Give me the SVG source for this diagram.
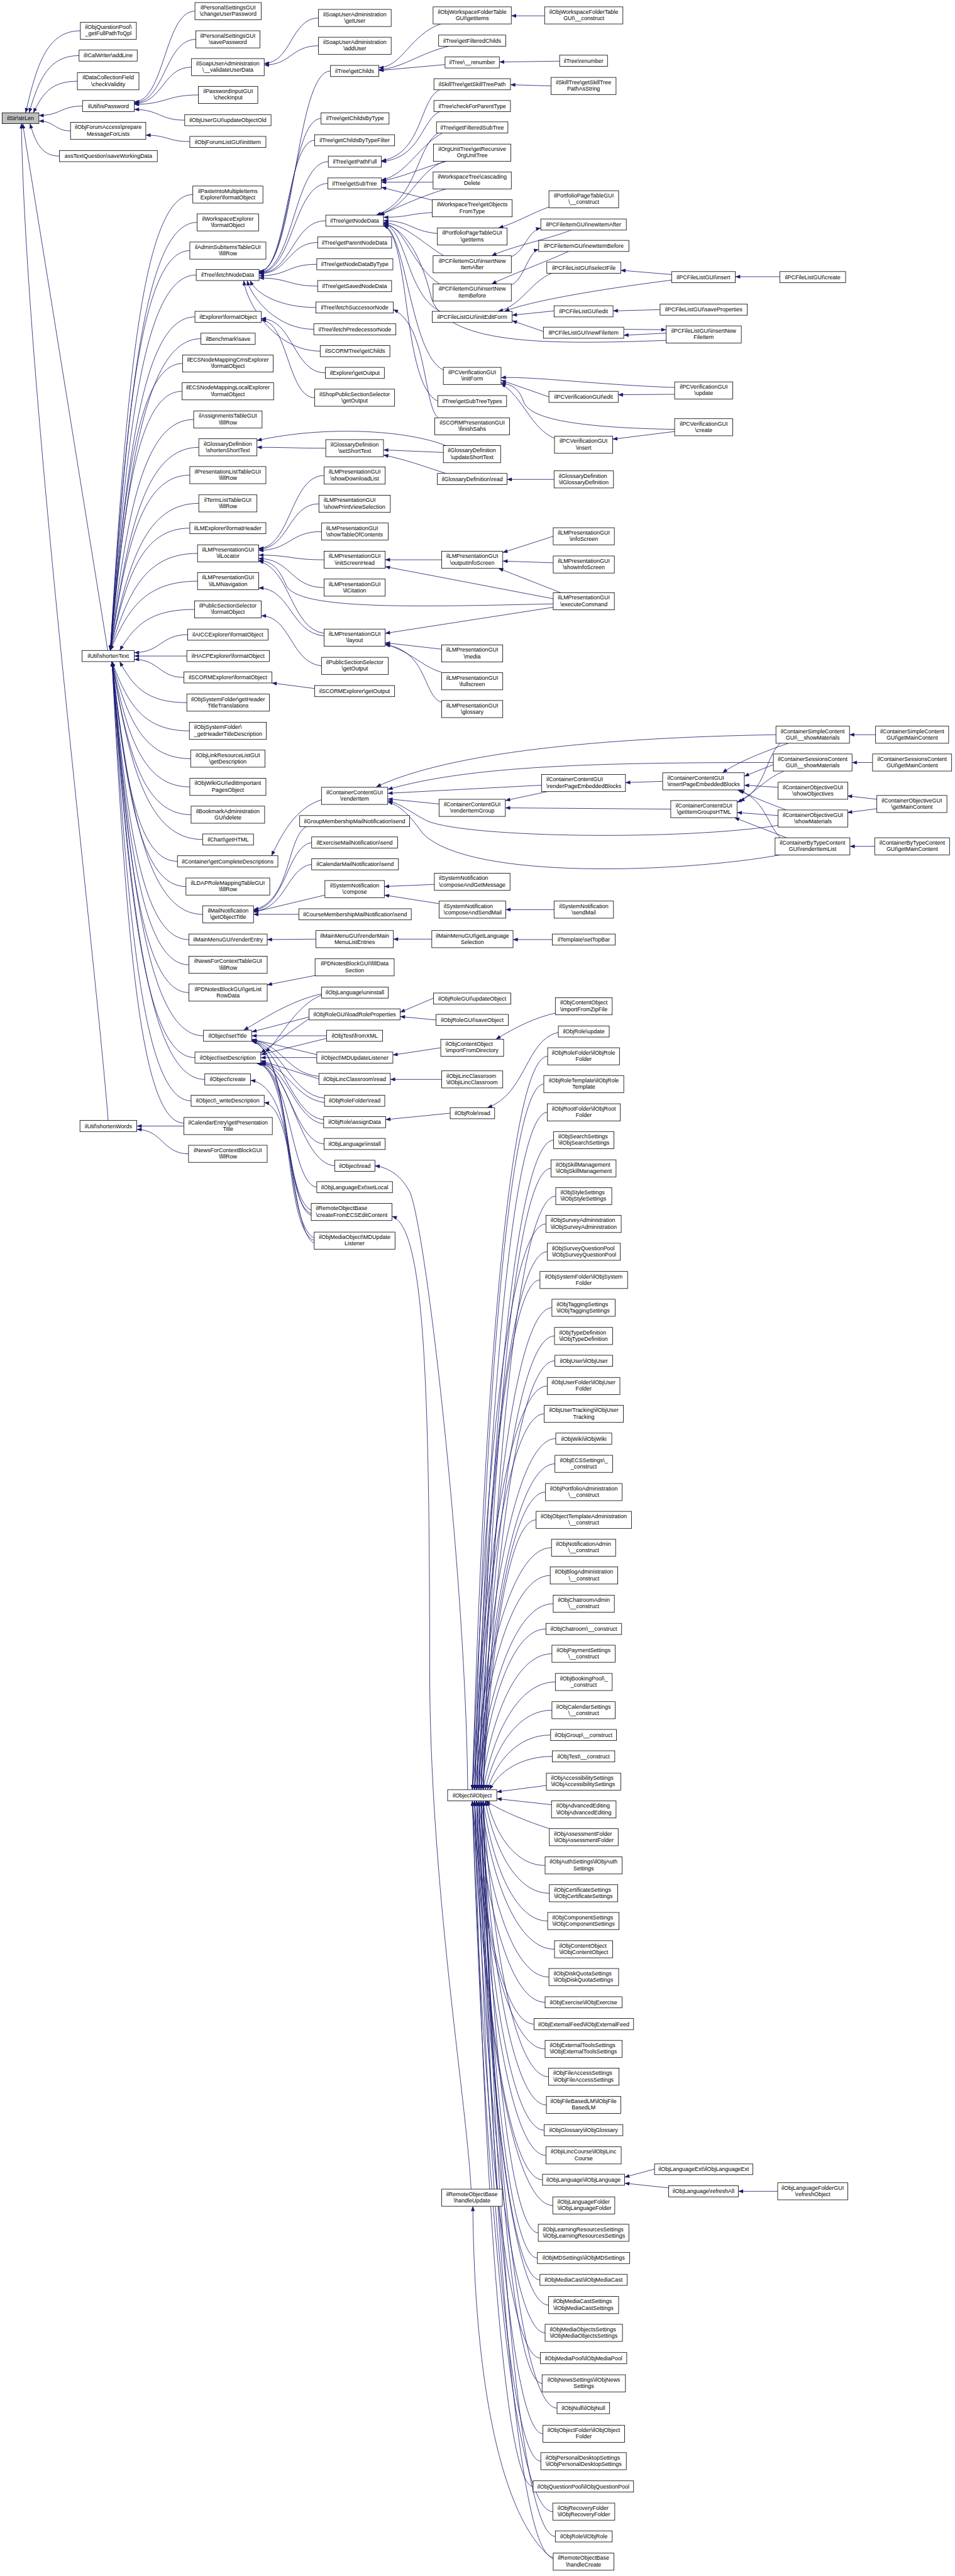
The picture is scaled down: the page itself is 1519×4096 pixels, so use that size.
<svg xmlns="http://www.w3.org/2000/svg" width="1519" height="4096" viewBox="0 0 1519 4096">
<style>
.n rect{fill:#fff;stroke:#000;stroke-width:1.2}
.n text{font-family:"Liberation Sans",Arial,Helvetica,sans-serif;font-size:13.2px;text-anchor:middle;fill:#000}
.n.l text{text-anchor:start}
#n0 rect{fill:#bfbfbf}
.e path{fill:none;stroke:#191970;stroke-width:1.2;marker-end:url(#a)}
</style>
<defs>
<marker id="a" viewBox="0 0 10 8" refX="10" refY="4" markerWidth="13" markerHeight="9" orient="auto" markerUnits="userSpaceOnUse"><path d="M0,0 L10,4 L0,8 z" fill="#191970"/></marker>
</defs>
<rect width="1519" height="4096" fill="#fff"/>
<g transform="scale(0.68)">
<g id="edges" class="e">
<path d="M188 72C111 72 86 149 60 264"/>
<path d="M185 130C115 130 91 184 68 264"/>
<path d="M181 190C119 190 99 220 78 264"/>
<path d="M193 248C142 248 142 270 91 270"/>
<path d="M165 306C128 306 128 283 91 283"/>
<path d="M139 365C98 365 84 335 70 289"/>
<path d="M252 1521L53 289"/>
<path d="M253 2620C220 2200 60 900 50 289"/>
<path d="M456 26C385 26 385 238 314 238"/>
<path d="M458 92C386 92 386 240 314 240"/>
<path d="M448 157C381 157 381 242 314 242"/>
<path d="M464 222C389 222 389 244 314 244"/>
<path d="M432 281C373 281 373 256 314 256"/>
<path d="M444 331C392 331 392 316 341 316"/>
<path d="M745 42C681 42 681 148 618 148"/>
<path d="M745 107C681 107 681 152 618 152"/>
<path d="M451 455C335 455 297 881 258 1521"/>
<path d="M461 520C339 520 299 920 258 1521"/>
<path d="M444 586C332 586 295 960 258 1521"/>
<path d="M459 643C338 643 298 994 258 1521"/>
<path d="M456 741C337 741 298 1053 258 1521"/>
<path d="M470 792C343 792 300 1084 258 1521"/>
<path d="M427 850C326 850 292 1118 258 1521"/>
<path d="M426 915C325 915 292 1157 258 1521"/>
<path d="M453 981C336 981 297 1197 258 1521"/>
<path d="M465 1046C341 1046 299 1236 258 1521"/>
<path d="M444 1111C332 1111 295 1275 258 1521"/>
<path d="M465 1177C341 1177 299 1315 258 1521"/>
<path d="M444 1235C332 1235 295 1349 258 1521"/>
<path d="M462 1294C340 1294 299 1385 258 1521"/>
<path d="M462 1359C340 1359 299 1424 258 1521"/>
<path d="M455 1425C350 1425 315 1463 280 1521"/>
<path d="M439 1484C376 1484 376 1526 314 1526"/>
<path d="M437 1534L314 1534"/>
<path d="M430 1584C372 1584 372 1542 314 1542"/>
<path d="M437 1643C343 1643 311 1605 280 1547"/>
<path d="M443 1709C334 1709 298 1644 262 1547"/>
<path d="M446 1774C336 1774 299 1683 262 1547"/>
<path d="M444 1840C335 1840 298 1723 262 1547"/>
<path d="M447 1905C336 1905 299 1762 262 1547"/>
<path d="M474 1963C347 1963 304 1797 262 1547"/>
<path d="M415 2014C323 2014 293 1827 262 1547"/>
<path d="M435 2073C331 2073 297 1863 262 1547"/>
<path d="M474 2138C347 2138 304 1902 262 1547"/>
<path d="M442 2197C334 2197 298 1937 262 1547"/>
<path d="M442 2256C334 2256 298 1972 262 1547"/>
<path d="M442 2321C334 2321 298 2011 262 1547"/>
<path d="M476 2422C348 2422 305 2072 262 1547"/>
<path d="M456 2473C340 2473 301 2103 262 1547"/>
<path d="M479 2524C349 2524 305 2133 262 1547"/>
<path d="M447 2574C336 2574 299 2163 262 1547"/>
<path d="M430 2626C329 2626 296 2199 262 1547"/>
<path d="M430 2633L320 2633"/>
<path d="M441 2698C380 2698 380 2641 320 2641"/>
<path d="M773 166C690 166 690 634 606 634"/>
<path d="M751 277C678 277 678 635 606 635"/>
<path d="M736 328C671 328 671 636 606 636"/>
<path d="M768 378C687 378 687 637 606 637"/>
<path d="M767 429C686 429 686 638 606 638"/>
<path d="M762 516C684 516 684 639 606 639"/>
<path d="M743 567C675 567 675 640 606 640"/>
<path d="M741 618C673 618 673 645 606 645"/>
<path d="M743 669C675 669 675 650 606 650"/>
<path d="M739 719C660 719 600 690 585 656"/>
<path d="M734 770C650 770 590 700 578 656"/>
<path d="M749 821C650 821 580 720 570 656"/>
<path d="M761 872C686 872 686 745 611 745"/>
<path d="M736 930C673 930 673 749 611 749"/>
<path d="M762 1048C681 1048 681 1046 601 1046"/>
<path d="M1043 1042C950 1005 760 995 601 1030"/>
<path d="M758 1112C680 1112 680 1282 605 1282"/>
<path d="M746 1178C675 1178 675 1284 605 1284"/>
<path d="M752 1243C678 1243 678 1287 605 1287"/>
<path d="M758 1309C680 1309 680 1298 605 1298"/>
<path d="M758 1374C680 1374 680 1306 605 1306"/>
<path d="M1294 1412C950 1420 700 1425 670 1370C655 1335 640 1312 605 1310"/>
<path d="M758 1481C680 1470 680 1330 605 1312"/>
<path d="M758 1487C680 1480 680 1375 605 1375"/>
<path d="M752 1557C680 1550 680 1440 611 1440"/>
<path d="M736 1610L636 1597"/>
<path d="M1031 56C960 80 940 158 886 158"/>
<path d="M1050 108C980 125 940 160 886 163"/>
<path d="M1041 151L886 165"/>
<path d="M1309 143L1168 145"/>
<path d="M1274 37L1196 37"/>
<path d="M1030 209C980 230 990 360 892 376"/>
<path d="M1030 260C985 280 985 370 892 378"/>
<path d="M1289 201L1194 198"/>
<path d="M1035 311C980 340 950 410 892 421"/>
<path d="M1045 377C980 395 940 415 892 423"/>
<path d="M1013 426L892 426"/>
<path d="M1011 468L892 438"/>
<path d="M1025 311C975 340 975 470 880 503"/>
<path d="M1040 377C975 400 960 480 885 503"/>
<path d="M1043 442C980 460 920 490 888 503"/>
<path d="M1011 497C955 500 955 508 897 508"/>
<path d="M1023 546C960 540 960 516 897 516"/>
<path d="M1038 598C990 570 950 525 897 520"/>
<path d="M1028 664C960 620 950 530 897 522"/>
<path d="M1030 728C950 690 950 530 897 524"/>
<path d="M1037 865C960 830 950 540 897 526"/>
<path d="M1024 938C940 900 960 550 897 528"/>
<path d="M1558 796C1300 805 1050 810 1010 700C990 620 960 540 897 522"/>
<path d="M1025 977C990 950 1000 760 920 724"/>
<path d="M1284 484C1240 500 1210 520 1166 533"/>
<path d="M1196 600C1225 590 1235 540 1265 533"/>
<path d="M1336 538C1280 560 1200 575 1150 598"/>
<path d="M1196 666C1225 655 1235 590 1260 583"/>
<path d="M1330 588C1270 615 1200 640 1150 664"/>
<path d="M1290 639C1240 660 1220 715 1165 728"/>
<path d="M1571 655C1450 670 1250 700 1180 728"/>
<path d="M1296 727L1198 737"/>
<path d="M1271 775L1198 750"/>
<path d="M1571 642L1452 632"/>
<path d="M1544 724L1434 727"/>
<path d="M1558 779L1459 784"/>
<path d="M1459 770L1558 771"/>
<path d="M1824 647L1720 647"/>
<path d="M1284 928L1172 889"/>
<path d="M1578 906C1400 900 1250 880 1172 883"/>
<path d="M1578 1004C1350 1000 1240 980 1225 940C1215 910 1200 900 1172 895"/>
<path d="M1297 1025C1240 1000 1225 930 1172 897"/>
<path d="M1578 922L1446 923"/>
<path d="M1578 1009L1433 1027"/>
<path d="M1037 1058L897 1052"/>
<path d="M1043 1107C990 1090 950 1075 897 1064"/>
<path d="M1296 1121L1186 1121"/>
<path d="M1033 1309L901 1309"/>
<path d="M1294 1400L901 1325"/>
<path d="M1294 1254L1176 1292"/>
<path d="M1294 1316L1176 1312"/>
<path d="M1312 1386L1166 1329"/>
<path d="M1294 1420L901 1481"/>
<path d="M1033 1518L901 1503"/>
<path d="M1033 1572C990 1560 970 1530 901 1505"/>
<path d="M1033 1642C990 1630 1000 1520 901 1508"/>
<path d="M1815 1718C1400 1725 1050 1760 880 1840"/>
<path d="M1809 1783C1400 1783 1100 1790 907 1846"/>
<path d="M1267 1836L907 1855"/>
<path d="M1027 1880L907 1868"/>
<path d="M1820 1930C1600 1965 1100 1960 1000 1920C960 1900 940 1880 907 1872"/>
<path d="M1825 1999C1600 2040 1100 2060 990 1950C960 1910 940 1885 907 1875"/>
<path d="M752 1870C690 1890 660 1950 635 2001"/>
<path d="M1280 1851L1182 1872"/>
<path d="M1569 1892L1182 1889"/>
<path d="M1550 1827L1463 1830"/>
<path d="M1844 1738C1780 1760 1720 1785 1690 1807"/>
<path d="M1809 1788L1741 1815"/>
<path d="M1820 1841L1741 1836"/>
<path d="M1839 1894C1790 1875 1750 1860 1730 1847"/>
<path d="M1825 1959C1790 1920 1790 1870 1725 1847"/>
<path d="M1825 1738C1790 1770 1790 1850 1730 1873"/>
<path d="M1834 1803C1790 1820 1760 1860 1724 1876"/>
<path d="M1820 1907L1724 1900"/>
<path d="M1840 1959L1718 1912"/>
<path d="M2048 1718L1987 1718"/>
<path d="M2041 1783L1993 1783"/>
<path d="M2051 1869L1982 1861"/>
<path d="M2051 1891L1982 1900"/>
<path d="M2046 1979L1988 1979"/>
<path d="M716 1933C670 1960 680 2110 593 2127"/>
<path d="M729 1970C670 1980 670 2120 593 2129"/>
<path d="M729 2021C670 2030 670 2125 593 2131"/>
<path d="M760 2093L593 2133"/>
<path d="M699 2138L593 2138"/>
<path d="M1016 2068L899 2073"/>
<path d="M1027 2113L899 2093"/>
<path d="M1296 2127L1183 2127"/>
<path d="M739 2196L625 2197"/>
<path d="M1010 2196L920 2196"/>
<path d="M1292 2197L1200 2197"/>
<path d="M737 2281L625 2303"/>
<path d="M752 2324C680 2340 620 2380 570 2409"/>
<path d="M723 2378L589 2413"/>
<path d="M764 2422L589 2422"/>
<path d="M741 2466L589 2430"/>
<path d="M746 2517C670 2510 660 2440 589 2432"/>
<path d="M759 2568C680 2560 660 2445 589 2433"/>
<path d="M757 2618C680 2610 660 2450 589 2434"/>
<path d="M728 2830C660 2800 680 2460 589 2434"/>
<path d="M735 2895C660 2860 690 2460 589 2435"/>
<path d="M752 2327C690 2350 650 2440 620 2460"/>
<path d="M723 2382L610 2462"/>
<path d="M764 2428L610 2466"/>
<path d="M741 2473L610 2473"/>
<path d="M746 2523L610 2480"/>
<path d="M759 2578C690 2570 670 2490 610 2484"/>
<path d="M757 2628C690 2620 670 2490 610 2485"/>
<path d="M758 2675C690 2670 670 2495 610 2486"/>
<path d="M783 2726C700 2720 680 2500 610 2486"/>
<path d="M741 2776C680 2770 680 2500 605 2486"/>
<path d="M728 2838C660 2810 690 2500 600 2486"/>
<path d="M735 2901C660 2870 690 2500 600 2486"/>
<path d="M728 2842C670 2820 690 2540 586 2526"/>
<path d="M735 2907C680 2880 690 2590 618 2578"/>
<path d="M1014 2334L936 2367"/>
<path d="M1020 2385L936 2377"/>
<path d="M1031 2450L919 2467"/>
<path d="M1299 2369C1250 2380 1210 2400 1160 2430"/>
<path d="M1033 2524L913 2524"/>
<path d="M1053 2603L902 2618"/>
<path d="M1306 2414C1230 2430 1230 2560 1140 2590"/>
<path d="M1094 4185C1090 3700 1000 2900 960 2790C940 2750 910 2730 877 2726"/>
<path d="M1102 5119C1090 4900 1005 4400 1005 3900C1005 3200 990 2870 917 2844"/>
<path d="M1294 5984C1180 5900 1110 5600 1106 5159"/>
<path d="M1281 2470C1193 2470 1131 3242 1105 4185"/>
<path d="M1272 2535C1191 2535 1134 3278 1110 4185"/>
<path d="M1280 2601C1198 2601 1140 3314 1115 4185"/>
<path d="M1295 2666C1208 2666 1146 3350 1120 4185"/>
<path d="M1289 2732C1207 2732 1150 3386 1125 4185"/>
<path d="M1300 2797C1215 2797 1156 3422 1130 4185"/>
<path d="M1277 2862C1191 2862 1131 3457 1105 4185"/>
<path d="M1280 2927C1195 2927 1136 3493 1110 4185"/>
<path d="M1263 2993C1189 2993 1137 3529 1115 4185"/>
<path d="M1291 3058C1206 3058 1146 3565 1120 4185"/>
<path d="M1297 3124C1211 3124 1151 3601 1125 4185"/>
<path d="M1298 3182C1214 3182 1155 3633 1130 4185"/>
<path d="M1280 3241C1193 3241 1131 3666 1105 4185"/>
<path d="M1273 3306C1192 3306 1134 3702 1110 4185"/>
<path d="M1300 3364C1208 3364 1143 3733 1115 4185"/>
<path d="M1298 3423C1209 3423 1147 3766 1120 4185"/>
<path d="M1276 3489C1201 3489 1148 3802 1125 4185"/>
<path d="M1254 3554C1192 3554 1149 3838 1130 4185"/>
<path d="M1290 3619C1198 3619 1133 3874 1105 4185"/>
<path d="M1287 3684C1199 3684 1137 3909 1110 4185"/>
<path d="M1294 3750C1205 3750 1142 3946 1115 4185"/>
<path d="M1277 3809C1199 3809 1144 3978 1120 4185"/>
<path d="M1291 3867C1208 3867 1150 4010 1125 4185"/>
<path d="M1299 3933C1215 3933 1155 4046 1130 4185"/>
<path d="M1291 3999C1213 3999 1158 4083 1135 4185"/>
<path d="M1288 4057C1214 4057 1162 4115 1140 4185"/>
<path d="M1292 4107C1219 4107 1167 4142 1145 4185"/>
<path d="M1278 4175L1162 4190"/>
<path d="M1290 4220L1162 4206"/>
<path d="M1285 4276C1230 4258 1180 4238 1135 4211"/>
<path d="M1275 4362C1208 4362 1160 4294 1140 4211"/>
<path d="M1285 4427C1210 4427 1158 4330 1135 4211"/>
<path d="M1281 4492C1206 4492 1153 4366 1130 4211"/>
<path d="M1297 4558C1211 4558 1151 4402 1125 4211"/>
<path d="M1284 4623C1202 4623 1145 4438 1120 4211"/>
<path d="M1275 4682C1195 4682 1139 4470 1115 4211"/>
<path d="M1249 4733C1180 4733 1131 4498 1110 4211"/>
<path d="M1275 4791C1190 4791 1131 4530 1105 4211"/>
<path d="M1283 4856C1207 4856 1153 4566 1130 4211"/>
<path d="M1278 4922C1202 4922 1148 4602 1125 4211"/>
<path d="M1273 4981C1197 4981 1143 4635 1120 4211"/>
<path d="M1277 5040C1196 5040 1139 4667 1115 4211"/>
<path d="M1269 5097C1190 5097 1134 4698 1110 4211"/>
<path d="M1293 5157C1199 5157 1133 4731 1105 4211"/>
<path d="M1259 5221C1195 5221 1149 4767 1130 4211"/>
<path d="M1257 5280C1191 5280 1145 4799 1125 4211"/>
<path d="M1263 5331C1192 5331 1141 4827 1120 4211"/>
<path d="M1283 5390C1199 5390 1140 4859 1115 4211"/>
<path d="M1275 5455C1193 5455 1135 4895 1110 4211"/>
<path d="M1264 5514C1185 5514 1129 4928 1105 4211"/>
<path d="M1268 5573C1199 5573 1151 4960 1130 4211"/>
<path d="M1303 5631C1214 5631 1152 4992 1125 4211"/>
<path d="M1270 5691C1195 5691 1143 5025 1120 4211"/>
<path d="M1265 5755C1190 5755 1138 5060 1115 4211"/>
<path d="M1247 5814C1179 5814 1131 5093 1110 4211"/>
<path d="M1293 5873C1199 5873 1133 5125 1105 4211"/>
<path d="M1299 5931C1215 5931 1155 5157 1130 4211"/>
<path d="M1294 5980C1210 5980 1150 5184 1125 4211"/>
<path d="M1531 5072L1461 5091"/>
<path d="M1564 5116L1461 5105"/>
<path d="M1819 5124L1727 5124"/>
</g>
<g id="nodes">
<g id="n0" class="n"><rect x="5" y="264" width="86" height="25"/><text x="48" y="281.5">ilStr\strLen</text></g>
<g id="n1" class="n"><rect x="188" y="52" width="131" height="40"/><text x="253.5" y="68">ilObjQuestionPool\</text><text x="253.5" y="83">_getFullPathToQpl</text></g>
<g id="n2" class="n"><rect x="185" y="117" width="136" height="26"/><text x="253" y="134.5">ilICalWriter\addLine</text></g>
<g id="n3" class="n"><rect x="181" y="170" width="144" height="40"/><text x="253" y="186">ilDataCollectionField</text><text x="253" y="201">\checkValidity</text></g>
<g id="n4" class="n"><rect x="193" y="235" width="121" height="26"/><text x="253.5" y="252.5">ilUtil\isPassword</text></g>
<g id="n5" class="n"><rect x="165" y="286" width="176" height="40"/><text x="253" y="302">ilObjForumAccess\prepare</text><text x="253" y="317">MessageForLists</text></g>
<g id="n6" class="n"><rect x="139" y="352" width="229" height="26"/><text x="253.5" y="369.5">assTextQuestion\saveWorkingData</text></g>
<g id="n7" class="n"><rect x="192" y="1521" width="122" height="26"/><text x="253" y="1538.5">ilUtil\shortenText</text></g>
<g id="n8" class="n"><rect x="187" y="2620" width="133" height="26"/><text x="253.5" y="2637.5">ilUtil\shortenWords</text></g>
<g id="n9" class="n"><rect x="456" y="6" width="155" height="40"/><text x="533.5" y="22">ilPersonalSettingsGUI</text><text x="533.5" y="37">\changeUserPassword</text></g>
<g id="n10" class="n"><rect x="458" y="72" width="150" height="40"/><text x="533" y="88">ilPersonalSettingsGUI</text><text x="533" y="103">\savePassword</text></g>
<g id="n11" class="n"><rect x="448" y="137" width="170" height="40"/><text x="533" y="153">ilSoapUserAdministration</text><text x="533" y="168">\__validateUserData</text></g>
<g id="n12" class="n"><rect x="464" y="202" width="139" height="40"/><text x="533.5" y="218">ilPasswordInputGUI</text><text x="533.5" y="233">\checkInput</text></g>
<g id="n13" class="n"><rect x="432" y="268" width="202" height="26"/><text x="533" y="285.5">ilObjUserGUI\updateObjectOld</text></g>
<g id="n14" class="n"><rect x="444" y="319" width="178" height="26"/><text x="533" y="336.5">ilObjForumListGUI\initItem</text></g>
<g id="n15" class="n"><rect x="451" y="435" width="164" height="40"/><text x="533" y="451">ilPasteIntoMultipleItems</text><text x="533" y="466">Explorer\formatObject</text></g>
<g id="n16" class="n"><rect x="461" y="500" width="144" height="40"/><text x="533" y="516">ilWorkspaceExplorer</text><text x="533" y="531">\formatObject</text></g>
<g id="n17" class="n"><rect x="444" y="566" width="178" height="40"/><text x="533" y="582">ilAdminSubItemsTableGUI</text><text x="533" y="597">\fillRow</text></g>
<g id="n18" class="n"><rect x="459" y="630" width="147" height="26"/><text x="532.5" y="647.5">ilTree\fetchNodeData</text></g>
<g id="n19" class="n"><rect x="456" y="728" width="155" height="26"/><text x="533.5" y="745.5">ilExplorer\formatObject</text></g>
<g id="n20" class="n"><rect x="470" y="779" width="127" height="26"/><text x="533.5" y="796.5">ilBenchmark\save</text></g>
<g id="n21" class="n"><rect x="427" y="830" width="212" height="40"/><text x="533" y="846">ilECSNodeMappingCmsExplorer</text><text x="533" y="861">\formatObject</text></g>
<g id="n22" class="n"><rect x="426" y="895" width="214" height="40"/><text x="533" y="911">ilECSNodeMappingLocalExplorer</text><text x="533" y="926">\formatObject</text></g>
<g id="n23" class="n"><rect x="453" y="961" width="160" height="40"/><text x="533" y="977">ilAssignmentsTableGUI</text><text x="533" y="992">\fillRow</text></g>
<g id="n24" class="n"><rect x="465" y="1026" width="136" height="40"/><text x="533" y="1042">ilGlossaryDefinition</text><text x="533" y="1057">\shortenShortText</text></g>
<g id="n25" class="n"><rect x="444" y="1091" width="178" height="40"/><text x="533" y="1107">ilPresentationListTableGUI</text><text x="533" y="1122">\fillRow</text></g>
<g id="n26" class="n"><rect x="465" y="1157" width="136" height="40"/><text x="533" y="1173">ilTermListTableGUI</text><text x="533" y="1188">\fillRow</text></g>
<g id="n27" class="n"><rect x="444" y="1222" width="178" height="26"/><text x="533" y="1239.5">ilLMExplorer\formatHeader</text></g>
<g id="n28" class="n"><rect x="462" y="1274" width="143" height="40"/><text x="533.5" y="1290">ilLMPresentationGUI</text><text x="533.5" y="1305">\ilLocator</text></g>
<g id="n29" class="n"><rect x="462" y="1339" width="143" height="40"/><text x="533.5" y="1355">ilLMPresentationGUI</text><text x="533.5" y="1370">\ilLMNavigation</text></g>
<g id="n30" class="n"><rect x="455" y="1405" width="156" height="40"/><text x="533" y="1421">ilPublicSectionSelector</text><text x="533" y="1436">\formatObject</text></g>
<g id="n31" class="n"><rect x="439" y="1471" width="188" height="26"/><text x="533" y="1488.5">ilAICCExplorer\formatObject</text></g>
<g id="n32" class="n"><rect x="437" y="1521" width="193" height="26"/><text x="533.5" y="1538.5">ilHACPExplorer\formatObject</text></g>
<g id="n33" class="n"><rect x="430" y="1571" width="206" height="26"/><text x="533" y="1588.5">ilSCORMExplorer\formatObject</text></g>
<g id="n34" class="n"><rect x="437" y="1623" width="193" height="40"/><text x="533.5" y="1639">ilObjSystemFolder\getHeader</text><text x="533.5" y="1654">TitleTranslations</text></g>
<g id="n35" class="n l"><rect x="443" y="1689" width="180" height="40"/><text x="454" y="1705">ilObjSystemFolder\</text><text x="454" y="1720">_getHeaderTitleDescription</text></g>
<g id="n36" class="n"><rect x="446" y="1754" width="174" height="40"/><text x="533" y="1770">ilObjLinkResourceListGUI</text><text x="533" y="1785">\getDescription</text></g>
<g id="n37" class="n"><rect x="444" y="1820" width="178" height="40"/><text x="533" y="1836">ilObjWikiGUI\editImportant</text><text x="533" y="1851">PagesObject</text></g>
<g id="n38" class="n"><rect x="447" y="1885" width="172" height="40"/><text x="533" y="1901">ilBookmarkAdministration</text><text x="533" y="1916">GUI\delete</text></g>
<g id="n39" class="n"><rect x="474" y="1950" width="119" height="26"/><text x="533.5" y="1967.5">ilChart\getHTML</text></g>
<g id="n40" class="n"><rect x="415" y="2001" width="235" height="26"/><text x="532.5" y="2018.5">ilContainer\getCompleteDescriptions</text></g>
<g id="n41" class="n"><rect x="435" y="2053" width="196" height="40"/><text x="533" y="2069">ilLDAPRoleMappingTableGUI</text><text x="533" y="2084">\fillRow</text></g>
<g id="n42" class="n"><rect x="474" y="2118" width="119" height="40"/><text x="533.5" y="2134">ilMailNotification</text><text x="533.5" y="2149">\getObjectTitle</text></g>
<g id="n43" class="n"><rect x="442" y="2184" width="183" height="26"/><text x="533.5" y="2201.5">ilMainMenuGUI\renderEntry</text></g>
<g id="n44" class="n"><rect x="442" y="2236" width="183" height="40"/><text x="533.5" y="2252">ilNewsForContextTableGUI</text><text x="533.5" y="2267">\fillRow</text></g>
<g id="n45" class="n"><rect x="442" y="2301" width="183" height="40"/><text x="533.5" y="2317">ilPDNotesBlockGUI\getList</text><text x="533.5" y="2332">RowData</text></g>
<g id="n46" class="n"><rect x="476" y="2409" width="113" height="26"/><text x="532.5" y="2426.5">ilObject\setTitle</text></g>
<g id="n47" class="n"><rect x="456" y="2460" width="154" height="26"/><text x="533" y="2477.5">ilObject\setDescription</text></g>
<g id="n48" class="n"><rect x="479" y="2511" width="107" height="26"/><text x="532.5" y="2528.5">ilObject\create</text></g>
<g id="n49" class="n"><rect x="447" y="2561" width="171" height="26"/><text x="532.5" y="2578.5">ilObject\_writeDescription</text></g>
<g id="n50" class="n"><rect x="430" y="2613" width="207" height="40"/><text x="533.5" y="2629">ilCalendarEntry\getPresentation</text><text x="533.5" y="2644">Title</text></g>
<g id="n51" class="n"><rect x="441" y="2678" width="184" height="40"/><text x="533" y="2694">ilNewsForContextBlockGUI</text><text x="533" y="2709">\fillRow</text></g>
<g id="n52" class="n"><rect x="745" y="22" width="170" height="40"/><text x="830" y="38">ilSoapUserAdministration</text><text x="830" y="53">\getUser</text></g>
<g id="n53" class="n"><rect x="745" y="87" width="170" height="40"/><text x="830" y="103">ilSoapUserAdministration</text><text x="830" y="118">\addUser</text></g>
<g id="n54" class="n"><rect x="773" y="153" width="113" height="26"/><text x="829.5" y="170.5">ilTree\getChilds</text></g>
<g id="n55" class="n"><rect x="751" y="264" width="159" height="26"/><text x="830.5" y="281.5">ilTree\getChildsByType</text></g>
<g id="n56" class="n"><rect x="736" y="315" width="187" height="26"/><text x="829.5" y="332.5">ilTree\getChildsByTypeFilter</text></g>
<g id="n57" class="n"><rect x="768" y="365" width="124" height="26"/><text x="830" y="382.5">ilTree\getPathFull</text></g>
<g id="n58" class="n"><rect x="767" y="416" width="125" height="26"/><text x="829.5" y="433.5">ilTree\getSubTree</text></g>
<g id="n59" class="n"><rect x="762" y="503" width="135" height="26"/><text x="829.5" y="520.5">ilTree\getNodeData</text></g>
<g id="n60" class="n"><rect x="743" y="554" width="173" height="26"/><text x="829.5" y="571.5">ilTree\getParentNodeData</text></g>
<g id="n61" class="n"><rect x="741" y="605" width="178" height="26"/><text x="830" y="622.5">ilTree\getNodeDataByType</text></g>
<g id="n62" class="n"><rect x="743" y="656" width="173" height="26"/><text x="829.5" y="673.5">ilTree\getSavedNodeData</text></g>
<g id="n63" class="n"><rect x="739" y="706" width="181" height="26"/><text x="829.5" y="723.5">ilTree\fetchSuccessorNode</text></g>
<g id="n64" class="n"><rect x="734" y="757" width="192" height="26"/><text x="830" y="774.5">ilTree\fetchPredecessorNode</text></g>
<g id="n65" class="n"><rect x="749" y="808" width="163" height="26"/><text x="830.5" y="825.5">ilSCORMTree\getChilds</text></g>
<g id="n66" class="n"><rect x="761" y="859" width="138" height="26"/><text x="830" y="876.5">ilExplorer\getOutput</text></g>
<g id="n67" class="n"><rect x="736" y="910" width="187" height="40"/><text x="829.5" y="926">ilShopPublicSectionSelector</text><text x="829.5" y="941">\getOutput</text></g>
<g id="n68" class="n"><rect x="762" y="1028" width="135" height="40"/><text x="829.5" y="1044">ilGlossaryDefinition</text><text x="829.5" y="1059">\setShortText</text></g>
<g id="n69" class="n"><rect x="758" y="1092" width="143" height="40"/><text x="829.5" y="1108">ilLMPresentationGUI</text><text x="829.5" y="1123">\showDownloadList</text></g>
<g id="n70" class="n l"><rect x="746" y="1158" width="167" height="40"/><text x="757" y="1174">ilLMPresentationGUI</text><text x="757" y="1189">\showPrintViewSelection</text></g>
<g id="n71" class="n l"><rect x="752" y="1223" width="156" height="40"/><text x="763" y="1239">ilLMPresentationGUI</text><text x="763" y="1254">\showTableOfContents</text></g>
<g id="n72" class="n"><rect x="758" y="1289" width="143" height="40"/><text x="829.5" y="1305">ilLMPresentationGUI</text><text x="829.5" y="1320">\initScreenHead</text></g>
<g id="n73" class="n"><rect x="758" y="1354" width="143" height="40"/><text x="829.5" y="1370">ilLMPresentationGUI</text><text x="829.5" y="1385">\ilCitation</text></g>
<g id="n74" class="n"><rect x="758" y="1471" width="143" height="40"/><text x="829.5" y="1487">ilLMPresentationGUI</text><text x="829.5" y="1502">\layout</text></g>
<g id="n75" class="n"><rect x="752" y="1537" width="156" height="40"/><text x="830" y="1553">ilPublicSectionSelector</text><text x="830" y="1568">\getOutput</text></g>
<g id="n76" class="n"><rect x="736" y="1603" width="187" height="26"/><text x="829.5" y="1620.5">ilSCORMExplorer\getOutput</text></g>
<g id="n77" class="n"><rect x="752" y="1841" width="155" height="40"/><text x="829.5" y="1857">ilContainerContentGUI</text><text x="829.5" y="1872">\renderItem</text></g>
<g id="n78" class="n"><rect x="701" y="1907" width="257" height="26"/><text x="829.5" y="1924.5">ilGroupMembershipMailNotification\send</text></g>
<g id="n79" class="n"><rect x="729" y="1957" width="201" height="26"/><text x="829.5" y="1974.5">ilExerciseMailNotification\send</text></g>
<g id="n80" class="n"><rect x="729" y="2008" width="203" height="26"/><text x="830.5" y="2025.5">ilCalendarMailNotification\send</text></g>
<g id="n81" class="n"><rect x="760" y="2059" width="139" height="40"/><text x="829.5" y="2075">ilSystemNotification</text><text x="829.5" y="2090">\compose</text></g>
<g id="n82" class="n"><rect x="699" y="2125" width="263" height="26"/><text x="830.5" y="2142.5">ilCourseMembershipMailNotification\send</text></g>
<g id="n83" class="n"><rect x="739" y="2176" width="181" height="40"/><text x="829.5" y="2192">ilMainMenuGUI\renderMain</text><text x="829.5" y="2207">MenuListEntries</text></g>
<g id="n84" class="n"><rect x="737" y="2242" width="185" height="40"/><text x="829.5" y="2258">ilPDNotesBlockGUI\fillData</text><text x="829.5" y="2273">Section</text></g>
<g id="n85" class="n"><rect x="752" y="2308" width="156" height="26"/><text x="830" y="2325.5">ilObjLanguage\uninstall</text></g>
<g id="n86" class="n"><rect x="723" y="2359" width="213" height="26"/><text x="829.5" y="2376.5">ilObjRoleGUI\loadRoleProperties</text></g>
<g id="n87" class="n"><rect x="764" y="2409" width="131" height="26"/><text x="829.5" y="2426.5">ilObjTest\fromXML</text></g>
<g id="n88" class="n"><rect x="741" y="2460" width="178" height="26"/><text x="830" y="2477.5">ilObject\MDUpdateListener</text></g>
<g id="n89" class="n"><rect x="746" y="2510" width="167" height="26"/><text x="829.5" y="2527.5">ilObjiLincClassroom\read</text></g>
<g id="n90" class="n"><rect x="759" y="2561" width="141" height="26"/><text x="829.5" y="2578.5">ilObjRoleFolder\read</text></g>
<g id="n91" class="n"><rect x="757" y="2611" width="145" height="26"/><text x="829.5" y="2628.5">ilObjRole\assignData</text></g>
<g id="n92" class="n"><rect x="758" y="2662" width="143" height="26"/><text x="829.5" y="2679.5">ilObjLanguage\install</text></g>
<g id="n93" class="n"><rect x="783" y="2713" width="94" height="26"/><text x="830" y="2730.5">ilObject\read</text></g>
<g id="n94" class="n"><rect x="741" y="2763" width="177" height="26"/><text x="829.5" y="2780.5">ilObjLanguageExt\setLocal</text></g>
<g id="n95" class="n l"><rect x="728" y="2814" width="189" height="40"/><text x="739" y="2830">ilRemoteObjectBase</text><text x="739" y="2845">\createFromECSEditContent</text></g>
<g id="n96" class="n"><rect x="735" y="2881" width="189" height="40"/><text x="829.5" y="2897">ilObjMediaObject\MDUpdate</text><text x="829.5" y="2912">Listener</text></g>
<g id="n97" class="n"><rect x="1013" y="16" width="183" height="40"/><text x="1104.5" y="32">ilObjWorkspaceFolderTable</text><text x="1104.5" y="47">GUI\getItems</text></g>
<g id="n98" class="n"><rect x="1026" y="82" width="157" height="26"/><text x="1104.5" y="99.5">ilTree\getFilteredChilds</text></g>
<g id="n99" class="n"><rect x="1041" y="133" width="127" height="26"/><text x="1104.5" y="150.5">ilTree\__renumber</text></g>
<g id="n100" class="n"><rect x="1015" y="184" width="179" height="26"/><text x="1104.5" y="201.5">ilSkillTree\getSkillTreePath</text></g>
<g id="n101" class="n"><rect x="1015" y="235" width="179" height="26"/><text x="1104.5" y="252.5">ilTree\checkForParentType</text></g>
<g id="n102" class="n"><rect x="1021" y="285" width="167" height="26"/><text x="1104.5" y="302.5">ilTree\getFilteredSubTree</text></g>
<g id="n103" class="n"><rect x="1014" y="337" width="181" height="40"/><text x="1104.5" y="353">ilOrgUnitTree\getRecursive</text><text x="1104.5" y="368">OrgUnitTree</text></g>
<g id="n104" class="n"><rect x="1013" y="402" width="183" height="40"/><text x="1104.5" y="418">ilWorkspaceTree\cascading</text><text x="1104.5" y="433">Delete</text></g>
<g id="n105" class="n"><rect x="1011" y="467" width="187" height="40"/><text x="1104.5" y="483">ilWorkspaceTree\getObjects</text><text x="1104.5" y="498">FromType</text></g>
<g id="n106" class="n"><rect x="1023" y="533" width="163" height="40"/><text x="1104.5" y="549">ilPortfolioPageTableGUI</text><text x="1104.5" y="564">\getItems</text></g>
<g id="n107" class="n"><rect x="1013" y="598" width="183" height="40"/><text x="1104.5" y="614">ilPCFileItemGUI\insertNew</text><text x="1104.5" y="629">ItemAfter</text></g>
<g id="n108" class="n"><rect x="1013" y="664" width="183" height="40"/><text x="1104.5" y="680">ilPCFileItemGUI\insertNew</text><text x="1104.5" y="695">ItemBefore</text></g>
<g id="n109" class="n"><rect x="1011" y="728" width="187" height="26"/><text x="1104.5" y="745.5">ilPCFileListGUI\initEditForm</text></g>
<g id="n110" class="n"><rect x="1037" y="859" width="135" height="40"/><text x="1104.5" y="875">ilPCVerificationGUI</text><text x="1104.5" y="890">\initForm</text></g>
<g id="n111" class="n"><rect x="1024" y="925" width="161" height="26"/><text x="1104.5" y="942.5">ilTree\getSubTreeTypes</text></g>
<g id="n112" class="n"><rect x="1017" y="977" width="175" height="40"/><text x="1104.5" y="993">ilSCORMPresentationGUI</text><text x="1104.5" y="1008">\finishSahs</text></g>
<g id="n113" class="n"><rect x="1037" y="1042" width="134" height="40"/><text x="1104" y="1058">ilGlossaryDefinition</text><text x="1104" y="1073">\updateShortText</text></g>
<g id="n114" class="n"><rect x="1023" y="1107" width="163" height="26"/><text x="1104.5" y="1124.5">ilGlossaryDefinition\read</text></g>
<g id="n115" class="n"><rect x="1033" y="1289" width="143" height="40"/><text x="1104.5" y="1305">ilLMPresentationGUI</text><text x="1104.5" y="1320">\outputInfoScreen</text></g>
<g id="n116" class="n"><rect x="1033" y="1508" width="143" height="40"/><text x="1104.5" y="1524">ilLMPresentationGUI</text><text x="1104.5" y="1539">\media</text></g>
<g id="n117" class="n"><rect x="1033" y="1573" width="143" height="40"/><text x="1104.5" y="1589">ilLMPresentationGUI</text><text x="1104.5" y="1604">\fullscreen</text></g>
<g id="n118" class="n"><rect x="1033" y="1638" width="143" height="40"/><text x="1104.5" y="1654">ilLMPresentationGUI</text><text x="1104.5" y="1669">\glossary</text></g>
<g id="n119" class="n"><rect x="1027" y="1869" width="155" height="40"/><text x="1104.5" y="1885">ilContainerContentGUI</text><text x="1104.5" y="1900">\renderItemGroup</text></g>
<g id="n120" class="n l"><rect x="1016" y="2042" width="177" height="40"/><text x="1027" y="2058">ilSystemNotification</text><text x="1027" y="2073">\composeAndGetMessage</text></g>
<g id="n121" class="n l"><rect x="1027" y="2107" width="156" height="40"/><text x="1038" y="2123">ilSystemNotification</text><text x="1038" y="2138">\composeAndSendMail</text></g>
<g id="n122" class="n"><rect x="1010" y="2176" width="190" height="40"/><text x="1105" y="2192">ilMainMenuGUI\getLanguage</text><text x="1105" y="2207">Selection</text></g>
<g id="n123" class="n"><rect x="1014" y="2322" width="181" height="26"/><text x="1104.5" y="2339.5">ilObjRoleGUI\updateObject</text></g>
<g id="n124" class="n"><rect x="1020" y="2372" width="169" height="26"/><text x="1104.5" y="2389.5">ilObjRoleGUI\saveObject</text></g>
<g id="n125" class="n l"><rect x="1031" y="2430" width="147" height="40"/><text x="1042" y="2446">ilObjContentObject</text><text x="1042" y="2461">\importFromDirectory</text></g>
<g id="n126" class="n l"><rect x="1033" y="2504" width="143" height="40"/><text x="1044" y="2520">ilObjiLincClassroom</text><text x="1044" y="2535">\ilObjiLincClassroom</text></g>
<g id="n127" class="n"><rect x="1053" y="2590" width="104" height="26"/><text x="1105" y="2607.5">ilObjRole\read</text></g>
<g id="n128" class="n"><rect x="1047" y="4185" width="115" height="26"/><text x="1104.5" y="4202.5">ilObject\ilObject</text></g>
<g id="n129" class="n"><rect x="1033" y="5119" width="142" height="40"/><text x="1104" y="5135">ilRemoteObjectBase</text><text x="1104" y="5150">\handleUpdate</text></g>
<g id="n130" class="n"><rect x="1274" y="16" width="183" height="40"/><text x="1365.5" y="32">ilObjWorkspaceFolderTable</text><text x="1365.5" y="47">GUI\__construct</text></g>
<g id="n131" class="n"><rect x="1309" y="129" width="112" height="26"/><text x="1365" y="146.5">ilTree\renumber</text></g>
<g id="n132" class="n"><rect x="1289" y="181" width="152" height="40"/><text x="1365" y="197">ilSkillTree\getSkillTree</text><text x="1365" y="212">PathAsString</text></g>
<g id="n133" class="n"><rect x="1284" y="446" width="163" height="40"/><text x="1365.5" y="462">ilPortfolioPageTableGUI</text><text x="1365.5" y="477">\__construct</text></g>
<g id="n134" class="n"><rect x="1265" y="512" width="200" height="26"/><text x="1365" y="529.5">ilPCFileItemGUI\newItemAfter</text></g>
<g id="n135" class="n"><rect x="1260" y="562" width="211" height="26"/><text x="1365.5" y="579.5">ilPCFileItemGUI\newItemBefore</text></g>
<g id="n136" class="n"><rect x="1279" y="613" width="173" height="26"/><text x="1365.5" y="630.5">ilPCFileListGUI\selectFile</text></g>
<g id="n137" class="n"><rect x="1296" y="715" width="138" height="26"/><text x="1365" y="732.5">ilPCFileListGUI\edit</text></g>
<g id="n138" class="n"><rect x="1271" y="765" width="188" height="26"/><text x="1365" y="782.5">ilPCFileListGUI\newFileItem</text></g>
<g id="n139" class="n"><rect x="1284" y="915" width="162" height="26"/><text x="1365" y="932.5">ilPCVerificationGUI\edit</text></g>
<g id="n140" class="n"><rect x="1297" y="1020" width="136" height="40"/><text x="1365" y="1036">ilPCVerificationGUI</text><text x="1365" y="1051">\insert</text></g>
<g id="n141" class="n l"><rect x="1296" y="1101" width="139" height="40"/><text x="1307" y="1117">ilGlossaryDefinition</text><text x="1307" y="1132">\ilGlossaryDefinition</text></g>
<g id="n142" class="n"><rect x="1294" y="1234" width="143" height="40"/><text x="1365.5" y="1250">ilLMPresentationGUI</text><text x="1365.5" y="1265">\infoScreen</text></g>
<g id="n143" class="n"><rect x="1294" y="1300" width="143" height="40"/><text x="1365.5" y="1316">ilLMPresentationGUI</text><text x="1365.5" y="1331">\showInfoScreen</text></g>
<g id="n144" class="n"><rect x="1294" y="1386" width="143" height="40"/><text x="1365.5" y="1402">ilLMPresentationGUI</text><text x="1365.5" y="1417">\executeCommand</text></g>
<g id="n145" class="n l"><rect x="1267" y="1811" width="196" height="40"/><text x="1278" y="1827">ilContainerContentGUI</text><text x="1278" y="1842">\renderPageEmbeddedBlocks</text></g>
<g id="n146" class="n"><rect x="1296" y="2107" width="139" height="40"/><text x="1365.5" y="2123">ilSystemNotification</text><text x="1365.5" y="2138">\sendMail</text></g>
<g id="n147" class="n"><rect x="1292" y="2184" width="147" height="26"/><text x="1365.5" y="2201.5">ilTemplate\setTopBar</text></g>
<g id="n148" class="n"><rect x="1299" y="2333" width="133" height="40"/><text x="1365.5" y="2349">ilObjContentObject</text><text x="1365.5" y="2364">\importFromZipFile</text></g>
<g id="n149" class="n"><rect x="1306" y="2399" width="119" height="26"/><text x="1365.5" y="2416.5">ilObjRole\update</text></g>
<g id="n150" class="n"><rect x="1281" y="2450" width="168" height="40"/><text x="1365" y="2466">ilObjRoleFolder\ilObjRole</text><text x="1365" y="2481">Folder</text></g>
<g id="n151" class="n"><rect x="1272" y="2515" width="187" height="40"/><text x="1365.5" y="2531">ilObjRoleTemplate\ilObjRole</text><text x="1365.5" y="2546">Template</text></g>
<g id="n152" class="n"><rect x="1280" y="2581" width="171" height="40"/><text x="1365.5" y="2597">ilObjRootFolder\ilObjRoot</text><text x="1365.5" y="2612">Folder</text></g>
<g id="n153" class="n l"><rect x="1295" y="2646" width="141" height="40"/><text x="1306" y="2662">ilObjSearchSettings</text><text x="1306" y="2677">\ilObjSearchSettings</text></g>
<g id="n154" class="n l"><rect x="1289" y="2712" width="152" height="40"/><text x="1300" y="2728">ilObjSkillManagement</text><text x="1300" y="2743">\ilObjSkillManagement</text></g>
<g id="n155" class="n l"><rect x="1300" y="2777" width="131" height="40"/><text x="1311" y="2793">ilObjStyleSettings</text><text x="1311" y="2808">\ilObjStyleSettings</text></g>
<g id="n156" class="n l"><rect x="1277" y="2842" width="176" height="40"/><text x="1288" y="2858">ilObjSurveyAdministration</text><text x="1288" y="2873">\ilObjSurveyAdministration</text></g>
<g id="n157" class="n l"><rect x="1280" y="2907" width="171" height="40"/><text x="1291" y="2923">ilObjSurveyQuestionPool</text><text x="1291" y="2938">\ilObjSurveyQuestionPool</text></g>
<g id="n158" class="n"><rect x="1263" y="2973" width="205" height="40"/><text x="1365.5" y="2989">ilObjSystemFolder\ilObjSystem</text><text x="1365.5" y="3004">Folder</text></g>
<g id="n159" class="n l"><rect x="1291" y="3038" width="148" height="40"/><text x="1302" y="3054">ilObjTaggingSettings</text><text x="1302" y="3069">\ilObjTaggingSettings</text></g>
<g id="n160" class="n l"><rect x="1297" y="3104" width="136" height="40"/><text x="1308" y="3120">ilObjTypeDefinition</text><text x="1308" y="3135">\ilObjTypeDefinition</text></g>
<g id="n161" class="n"><rect x="1298" y="3169" width="135" height="26"/><text x="1365.5" y="3186.5">ilObjUser\ilObjUser</text></g>
<g id="n162" class="n"><rect x="1280" y="3221" width="170" height="40"/><text x="1365" y="3237">ilObjUserFolder\ilObjUser</text><text x="1365" y="3252">Folder</text></g>
<g id="n163" class="n"><rect x="1273" y="3286" width="185" height="40"/><text x="1365.5" y="3302">ilObjUserTracking\ilObjUser</text><text x="1365.5" y="3317">Tracking</text></g>
<g id="n164" class="n"><rect x="1300" y="3351" width="131" height="26"/><text x="1365.5" y="3368.5">ilObjWiki\ilObjWiki</text></g>
<g id="n165" class="n"><rect x="1298" y="3403" width="135" height="40"/><text x="1365.5" y="3419">ilObjECSSettings\_</text><text x="1365.5" y="3434">_construct</text></g>
<g id="n166" class="n"><rect x="1276" y="3469" width="179" height="40"/><text x="1365.5" y="3485">ilObjPortfolioAdministration</text><text x="1365.5" y="3500">\__construct</text></g>
<g id="n167" class="n"><rect x="1254" y="3534" width="223" height="40"/><text x="1365.5" y="3550">ilObjObjectTemplateAdministration</text><text x="1365.5" y="3565">\__construct</text></g>
<g id="n168" class="n"><rect x="1290" y="3599" width="150" height="40"/><text x="1365" y="3615">ilObjNotificationAdmin</text><text x="1365" y="3630">\__construct</text></g>
<g id="n169" class="n"><rect x="1287" y="3664" width="158" height="40"/><text x="1366" y="3680">ilObjBlogAdministration</text><text x="1366" y="3695">\__construct</text></g>
<g id="n170" class="n"><rect x="1294" y="3730" width="143" height="40"/><text x="1365.5" y="3746">ilObjChatroomAdmin</text><text x="1365.5" y="3761">\__construct</text></g>
<g id="n171" class="n"><rect x="1277" y="3796" width="177" height="26"/><text x="1365.5" y="3813.5">ilObjChatroom\__construct</text></g>
<g id="n172" class="n"><rect x="1291" y="3847" width="148" height="40"/><text x="1365" y="3863">ilObjPaymentSettings</text><text x="1365" y="3878">\__construct</text></g>
<g id="n173" class="n"><rect x="1299" y="3913" width="133" height="40"/><text x="1365.5" y="3929">ilObjBookingPool\_</text><text x="1365.5" y="3944">_construct</text></g>
<g id="n174" class="n"><rect x="1291" y="3979" width="148" height="40"/><text x="1365" y="3995">ilObjCalendarSettings</text><text x="1365" y="4010">\__construct</text></g>
<g id="n175" class="n"><rect x="1288" y="4044" width="154" height="26"/><text x="1365" y="4061.5">ilObjGroup\__construct</text></g>
<g id="n176" class="n"><rect x="1292" y="4094" width="146" height="26"/><text x="1365" y="4111.5">ilObjTest\__construct</text></g>
<g id="n177" class="n l"><rect x="1278" y="4146" width="174" height="40"/><text x="1289" y="4162">ilObjAccessibilitySettings</text><text x="1289" y="4177">\ilObjAccessibilitySettings</text></g>
<g id="n178" class="n l"><rect x="1290" y="4211" width="151" height="40"/><text x="1301" y="4227">ilObjAdvancedEditing</text><text x="1301" y="4242">\ilObjAdvancedEditing</text></g>
<g id="n179" class="n l"><rect x="1285" y="4276" width="161" height="40"/><text x="1296" y="4292">ilObjAssessmentFolder</text><text x="1296" y="4307">\ilObjAssessmentFolder</text></g>
<g id="n180" class="n"><rect x="1275" y="4342" width="180" height="40"/><text x="1365" y="4358">ilObjAuthSettings\ilObjAuth</text><text x="1365" y="4373">Settings</text></g>
<g id="n181" class="n l"><rect x="1285" y="4407" width="160" height="40"/><text x="1296" y="4423">ilObjCertificateSettings</text><text x="1296" y="4438">\ilObjCertificateSettings</text></g>
<g id="n182" class="n l"><rect x="1281" y="4472" width="167" height="40"/><text x="1292" y="4488">ilObjComponentSettings</text><text x="1292" y="4503">\ilObjComponentSettings</text></g>
<g id="n183" class="n l"><rect x="1297" y="4538" width="136" height="40"/><text x="1308" y="4554">ilObjContentObject</text><text x="1308" y="4569">\ilObjContentObject</text></g>
<g id="n184" class="n l"><rect x="1284" y="4603" width="163" height="40"/><text x="1295" y="4619">ilObjDiskQuotaSettings</text><text x="1295" y="4634">\ilObjDiskQuotaSettings</text></g>
<g id="n185" class="n"><rect x="1275" y="4669" width="180" height="26"/><text x="1365" y="4686.5">ilObjExercise\ilObjExercise</text></g>
<g id="n186" class="n"><rect x="1249" y="4720" width="233" height="26"/><text x="1365.5" y="4737.5">ilObjExternalFeed\ilObjExternalFeed</text></g>
<g id="n187" class="n l"><rect x="1275" y="4771" width="180" height="40"/><text x="1286" y="4787">ilObjExternalToolsSettings</text><text x="1286" y="4802">\ilObjExternalToolsSettings</text></g>
<g id="n188" class="n l"><rect x="1283" y="4836" width="165" height="40"/><text x="1294" y="4852">ilObjFileAccessSettings</text><text x="1294" y="4867">\ilObjFileAccessSettings</text></g>
<g id="n189" class="n"><rect x="1278" y="4902" width="174" height="40"/><text x="1365" y="4918">ilObjFileBasedLM\ilObjFile</text><text x="1365" y="4933">BasedLM</text></g>
<g id="n190" class="n"><rect x="1273" y="4968" width="184" height="26"/><text x="1365" y="4985.5">ilObjGlossary\ilObjGlossary</text></g>
<g id="n191" class="n"><rect x="1277" y="5020" width="176" height="40"/><text x="1365" y="5036">ilObjiLincCourse\ilObjiLinc</text><text x="1365" y="5051">Course</text></g>
<g id="n192" class="n"><rect x="1269" y="5084" width="192" height="26"/><text x="1365" y="5101.5">ilObjLanguage\ilObjLanguage</text></g>
<g id="n193" class="n l"><rect x="1293" y="5137" width="145" height="40"/><text x="1304" y="5153">ilObjLanguageFolder</text><text x="1304" y="5168">\ilObjLanguageFolder</text></g>
<g id="n194" class="n l"><rect x="1259" y="5201" width="212" height="40"/><text x="1270" y="5217">ilObjLearningResourcesSettings</text><text x="1270" y="5232">\ilObjLearningResourcesSettings</text></g>
<g id="n195" class="n"><rect x="1257" y="5267" width="216" height="26"/><text x="1365" y="5284.5">ilObjMDSettings\ilObjMDSettings</text></g>
<g id="n196" class="n"><rect x="1263" y="5318" width="204" height="26"/><text x="1365" y="5335.5">ilObjMediaCast\ilObjMediaCast</text></g>
<g id="n197" class="n l"><rect x="1283" y="5370" width="164" height="40"/><text x="1294" y="5386">ilObjMediaCastSettings</text><text x="1294" y="5401">\ilObjMediaCastSettings</text></g>
<g id="n198" class="n l"><rect x="1275" y="5435" width="181" height="40"/><text x="1286" y="5451">ilObjMediaObjectsSettings</text><text x="1286" y="5466">\ilObjMediaObjectsSettings</text></g>
<g id="n199" class="n"><rect x="1264" y="5501" width="202" height="26"/><text x="1365" y="5518.5">ilObjMediaPool\ilObjMediaPool</text></g>
<g id="n200" class="n"><rect x="1268" y="5553" width="195" height="40"/><text x="1365.5" y="5569">ilObjNewsSettings\ilObjNews</text><text x="1365.5" y="5584">Settings</text></g>
<g id="n201" class="n"><rect x="1303" y="5618" width="123" height="26"/><text x="1364.5" y="5635.5">ilObjNull\ilObjNull</text></g>
<g id="n202" class="n"><rect x="1270" y="5671" width="191" height="40"/><text x="1365.5" y="5687">ilObjObjectFolder\ilObjObject</text><text x="1365.5" y="5702">Folder</text></g>
<g id="n203" class="n l"><rect x="1265" y="5735" width="200" height="40"/><text x="1276" y="5751">ilObjPersonalDesktopSettings</text><text x="1276" y="5766">\ilObjPersonalDesktopSettings</text></g>
<g id="n204" class="n"><rect x="1247" y="5801" width="235" height="26"/><text x="1364.5" y="5818.5">ilObjQuestionPool\ilObjQuestionPool</text></g>
<g id="n205" class="n l"><rect x="1293" y="5853" width="145" height="40"/><text x="1304" y="5869">ilObjRecoveryFolder</text><text x="1304" y="5884">\ilObjRecoveryFolder</text></g>
<g id="n206" class="n"><rect x="1299" y="5918" width="133" height="26"/><text x="1365.5" y="5935.5">ilObjRole\ilObjRole</text></g>
<g id="n207" class="n"><rect x="1294" y="5970" width="142" height="40"/><text x="1365" y="5986">ilRemoteObjectBase</text><text x="1365" y="6001">\handleCreate</text></g>
<g id="n208" class="n"><rect x="1571" y="635" width="149" height="26"/><text x="1645.5" y="652.5">ilPCFileListGUI\insert</text></g>
<g id="n209" class="n"><rect x="1544" y="711" width="204" height="26"/><text x="1646" y="728.5">ilPCFileListGUI\saveProperties</text></g>
<g id="n210" class="n"><rect x="1558" y="762" width="176" height="40"/><text x="1646" y="778">ilPCFileListGUI\insertNew</text><text x="1646" y="793">FileItem</text></g>
<g id="n211" class="n"><rect x="1578" y="893" width="136" height="40"/><text x="1646" y="909">ilPCVerificationGUI</text><text x="1646" y="924">\update</text></g>
<g id="n212" class="n"><rect x="1578" y="979" width="136" height="40"/><text x="1646" y="995">ilPCVerificationGUI</text><text x="1646" y="1010">\create</text></g>
<g id="n213" class="n l"><rect x="1550" y="1807" width="191" height="40"/><text x="1561" y="1823">ilContainerContentGUI</text><text x="1561" y="1838">\insertPageEmbeddedBlocks</text></g>
<g id="n214" class="n"><rect x="1569" y="1872" width="155" height="40"/><text x="1646.5" y="1888">ilContainerContentGUI</text><text x="1646.5" y="1903">\getItemGroupsHTML</text></g>
<g id="n215" class="n"><rect x="1531" y="5060" width="230" height="25"/><text x="1646" y="5077">ilObjLanguageExt\ilObjLanguageExt</text></g>
<g id="n216" class="n"><rect x="1564" y="5111" width="163" height="26"/><text x="1645.5" y="5128.5">ilObjLanguage\refreshAll</text></g>
<g id="n217" class="n"><rect x="1824" y="635" width="154" height="26"/><text x="1901" y="652.5">ilPCFileListGUI\create</text></g>
<g id="n218" class="n"><rect x="1815" y="1698" width="172" height="40"/><text x="1901" y="1714">ilContainerSimpleContent</text><text x="1901" y="1729">GUI\__showMaterials</text></g>
<g id="n219" class="n"><rect x="1809" y="1763" width="184" height="40"/><text x="1901" y="1779">ilContainerSessionsContent</text><text x="1901" y="1794">GUI\__showMaterials</text></g>
<g id="n220" class="n"><rect x="1820" y="1829" width="163" height="40"/><text x="1901.5" y="1845">ilContainerObjectiveGUI</text><text x="1901.5" y="1860">\showObjectives</text></g>
<g id="n221" class="n"><rect x="1820" y="1894" width="163" height="40"/><text x="1901.5" y="1910">ilContainerObjectiveGUI</text><text x="1901.5" y="1925">\showMaterials</text></g>
<g id="n222" class="n"><rect x="1813" y="1959" width="175" height="40"/><text x="1900.5" y="1975">ilContainerByTypeContent</text><text x="1900.5" y="1990">GUI\renderItemList</text></g>
<g id="n223" class="n"><rect x="1819" y="5104" width="164" height="40"/><text x="1901" y="5120">ilObjLanguageFolderGUI</text><text x="1901" y="5135">\refreshObject</text></g>
<g id="n224" class="n"><rect x="2048" y="1698" width="171" height="40"/><text x="2133.5" y="1714">ilContainerSimpleContent</text><text x="2133.5" y="1729">GUI\getMainContent</text></g>
<g id="n225" class="n"><rect x="2041" y="1763" width="185" height="40"/><text x="2133.5" y="1779">ilContainerSessionsContent</text><text x="2133.5" y="1794">GUI\getMainContent</text></g>
<g id="n226" class="n"><rect x="2051" y="1860" width="164" height="40"/><text x="2133" y="1876">ilContainerObjectiveGUI</text><text x="2133" y="1891">\getMainContent</text></g>
<g id="n227" class="n"><rect x="2046" y="1959" width="175" height="40"/><text x="2133.5" y="1975">ilContainerByTypeContent</text><text x="2133.5" y="1990">GUI\getMainContent</text></g>
</g>
</g>
</svg>
